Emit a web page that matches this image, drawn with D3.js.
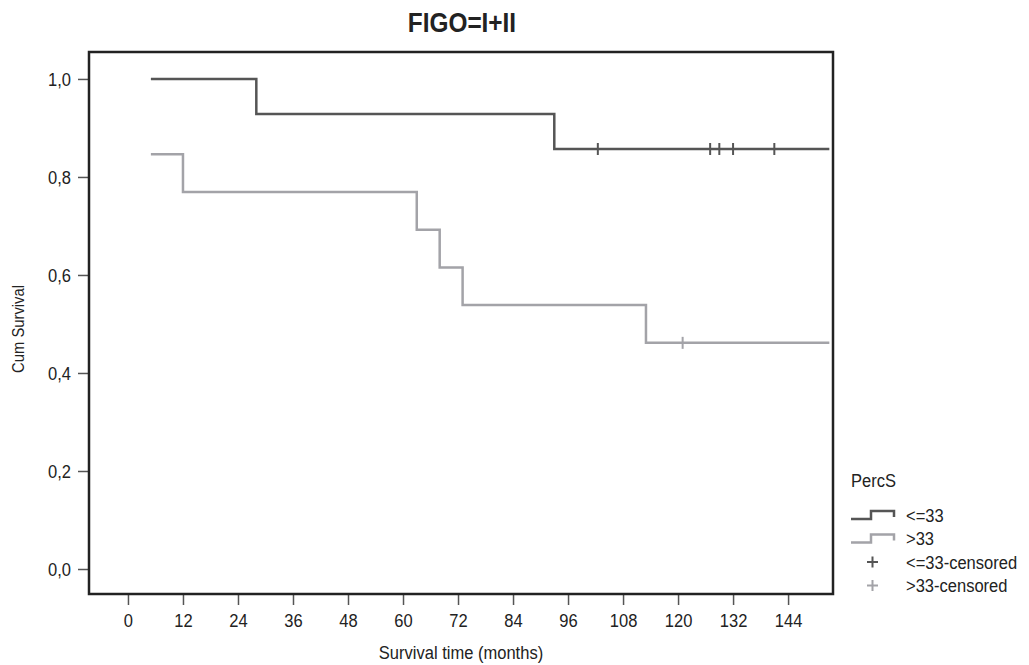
<!DOCTYPE html>
<html lang="en">
<head>
<meta charset="utf-8">
<title>FIGO=I+II</title>
<script src="https://d3js.org/d3.v7.min.js"></script>
<style>
  body { margin: 0; background: #fff; }
  text { font-family: "Liberation Sans", Arial, sans-serif; fill: #222; }
</style>
</head>
<body>
<script>
// data
const groups = ["<=33", ">33"];
const lowTimes = [5, 28, 93, 153];
const lowSurv = [1.0, 0.9286, 0.8571, 0.8571];
const lowCensored = [102.5, 127, 129, 132, 141];
const highTimes = [5, 12, 63, 68, 73, 113, 153];
const highSurv = [0.8462, 0.7692, 0.6923, 0.6154, 0.5385, 0.4615, 0.4615];
const highCensored = [121];
const xTicks = [0, 12, 24, 36, 48, 60, 72, 84, 96, 108, 120, 132, 144];
const yTicks = [0, 0.2, 0.4, 0.6, 0.8, 1.0];

const w = 1029, h = 665;
const pLeft = 89, pRight = 833, pTop = 52, pBottom = 594;
const darkCol = "#555555", lightCol = "#a3a3a8";
const squeeze = 0.87;   // the original uses a condensed face

const svg = d3.select("body").append("svg").attr("width", w).attr("height", h);

const x = d3.scaleLinear().domain([-8.5, 153.8]).range([pLeft, pRight]);
const y = d3.scaleLinear().domain([-0.051, 1.055]).range([pBottom, pTop]);

// title
svg.append("text").attr("x", 462).attr("y", 32).attr("text-anchor", "middle")
  .style("font-size", "28px").style("font-weight", "bold").text("FIGO=I+II");

// axes
const xAxis = d3.axisBottom(x).tickValues(xTicks).tickSize(11).tickPadding(5).tickFormat(d3.format("d"));
const gx = svg.append("g").attr("transform", "translate(0," + pBottom + ")").call(xAxis);
const yAxis = d3.axisLeft(y).tickValues(yTicks).tickSize(11).tickPadding(7)
  .tickFormat(d => d3.format(".1f")(d).replace(".", ","));
const gy = svg.append("g").attr("transform", "translate(" + pLeft + ",0)").call(yAxis);
[gx, gy].forEach(g => {
  g.attr("font-family", null).attr("font-size", null);
  g.select(".domain").remove();
  g.selectAll(".tick line").attr("stroke", "#555").attr("stroke-width", 1.5);
  g.selectAll(".tick text").style("font-size", "19px").attr("fill", "#222");
});
gx.selectAll(".tick text").attr("dy", "0.92em");

// frame
svg.append("rect").attr("x", pLeft).attr("y", pTop).attr("width", pRight - pLeft).attr("height", pBottom - pTop)
  .attr("fill", "none").attr("stroke", "#222").attr("stroke-width", 2.5);

// axis titles
svg.append("text").attr("x", (pLeft + pRight) / 2).attr("y", 659).attr("text-anchor", "middle")
  .style("font-size", "19px").text("Survival time (months)");
svg.append("text").attr("transform", "translate(24," + ((pTop + pBottom) / 2 + 6) + ") rotate(-90)")
  .attr("text-anchor", "middle").style("font-size", "17px").text("Cum Survival");

// curves
const line = d3.line().x(d => x(d[0])).y(d => y(d[1])).curve(d3.curveStepAfter);
const series = [
  { times: lowTimes, surv: lowSurv, cens: lowCensored, col: darkCol },
  { times: highTimes, surv: highSurv, cens: highCensored, col: lightCol }
];
series.forEach(s => {
  const pts = s.times.map((t, i) => [t, s.surv[i]]);
  svg.append("path").datum(pts).attr("d", line)
    .attr("fill", "none").attr("stroke", s.col).attr("stroke-width", 2.5);
  // censor ticks at the survival level in force at that time
  const lvl = t => y(s.surv[d3.bisectRight(s.times, t) - 1]);
  svg.selectAll(null).data(s.cens).enter().append("line")
    .attr("x1", d => x(d)).attr("x2", d => x(d))
    .attr("y1", d => lvl(d) - 6)
    .attr("y2", d => lvl(d) + 6)
    .attr("stroke", s.col).attr("stroke-width", 2);
});

// legend
const lg = svg.append("g");
lg.append("text").attr("x", 851).attr("y", 487).style("font-size", "19px").text("PercS");
const legendRows = [
  { label: groups[0], col: darkCol, kind: "step" },
  { label: groups[1], col: lightCol, kind: "step" },
  { label: groups[0] + "-censored", col: darkCol, kind: "plus" },
  { label: groups[1] + "-censored", col: lightCol, kind: "plus" }
];
legendRows.forEach((r, i) => {
  const cy = 515 + i * 23.5;
  if (r.kind === "step") {
    lg.append("path")
      .attr("d", "M851," + (cy + 4) + "H871V" + (cy - 4) + "H894V" + (cy + 2))
      .attr("fill", "none").attr("stroke", r.col).attr("stroke-width", 2.5);
  } else {
    lg.append("path")
      .attr("d", "M867," + cy + "H878M872.5," + (cy - 5.5) + "V" + (cy + 5.5))
      .attr("stroke", r.col).attr("stroke-width", 2);
  }
  lg.append("text").attr("x", 906).attr("y", cy + 7).style("font-size", "19px").text(r.label);
});

// narrow every text horizontally with a real transform
svg.selectAll("text").each(function() {
  const t = d3.select(this);
  const xv = +t.attr("x") || 0;
  t.attr("x", xv / squeeze)
   .attr("transform", (t.attr("transform") || "") + " scale(" + squeeze + ",1)");
});
</script>
</body>
</html>
